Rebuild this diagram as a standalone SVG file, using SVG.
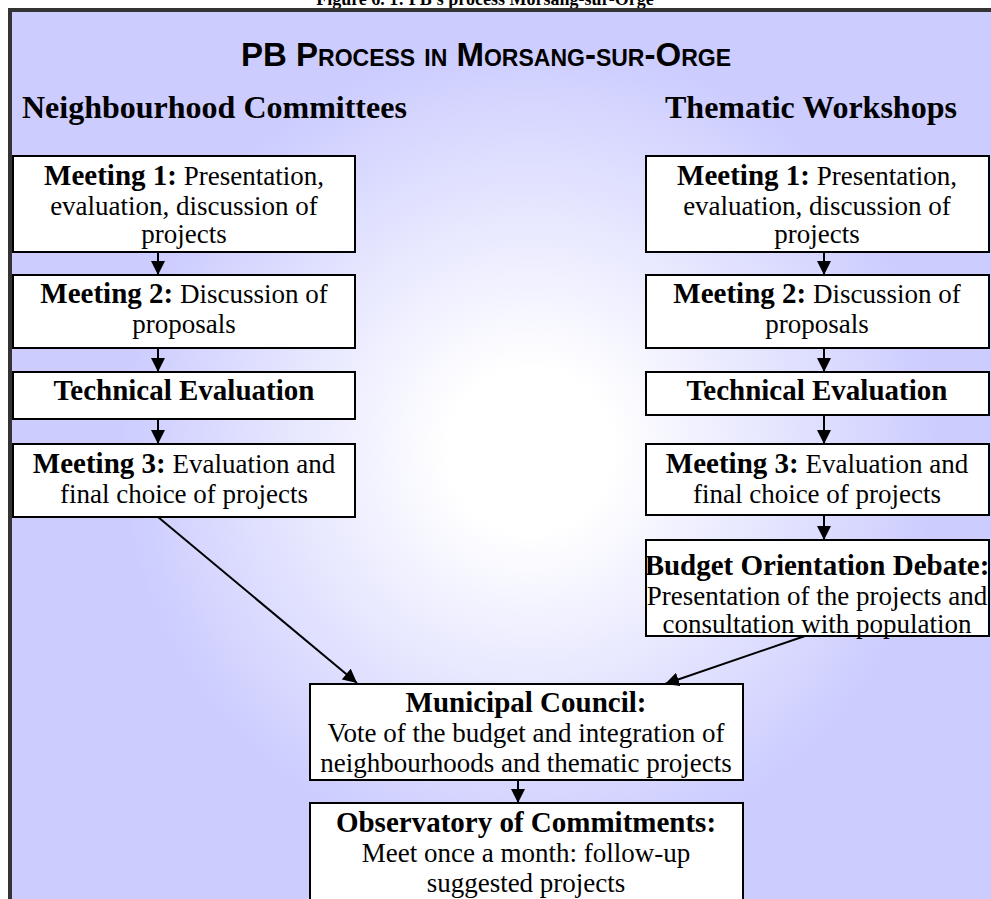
<svg xmlns="http://www.w3.org/2000/svg" width="991" height="899" viewBox="0 0 991 899">
<defs>
<radialGradient id="bg" gradientUnits="userSpaceOnUse" cx="530" cy="450" r="410">
<stop offset="0" stop-color="#FFFFFF"/>
<stop offset="0.2" stop-color="#FFFFFF"/>
<stop offset="1" stop-color="#CCCCFF"/>
</radialGradient>
<marker id="ah" markerUnits="userSpaceOnUse" markerWidth="14" markerHeight="14" viewBox="0 0 14 14" refX="14" refY="7" orient="auto">
<path d="M0,0 L14,7 L0,14 Z" fill="#000"/>
</marker>
<style>
.box{fill:#FFFFFF;stroke:#000;stroke-width:2}
.t{font-family:"Liberation Serif","Times New Roman",serif;font-size:27px;fill:#000;text-anchor:middle}
.b{font-weight:bold;font-size:29px}
.h{font-family:"Liberation Serif","Times New Roman",serif;font-size:32px;font-weight:bold;fill:#000}
.c{stroke:#000;stroke-width:2;fill:none;marker-end:url(#ah)}
</style>
</defs>
<rect x="0" y="0" width="991" height="899" fill="#FFFFFF"/>
<text x="485" y="5" style="font-family:'Liberation Serif',serif;font-size:18px;font-weight:bold;text-anchor:middle">Figure 6. 1: PB's process Morsang-sur-Orge</text>
<rect x="10" y="10" width="1000" height="920" fill="url(#bg)" stroke="#333333" stroke-width="4"/>
<text x="486" y="66" style="font-family:'Liberation Sans',Arial,sans-serif;font-size:33px;font-weight:bold;font-variant:small-caps;text-anchor:middle">PB Process in Morsang-sur-Orge</text>
<text class="h" x="22" y="118">Neighbourhood Committees</text>
<text class="h" x="665" y="118">Thematic Workshops</text>

<g id="n-meeting1-left">
<rect class="box" x="13" y="156" width="342" height="96"/>
<text class="t" x="184" y="185"><tspan class="b">Meeting 1:</tspan>  Presentation,</text>
<text class="t" x="184" y="215">evaluation, discussion of</text>
<text class="t" x="184" y="243">projects</text>
</g>
<g id="n-meeting2-left">
<rect class="box" x="13" y="275" width="342" height="73"/>
<text class="t" x="184" y="303"><tspan class="b">Meeting 2:</tspan> Discussion of</text>
<text class="t" x="184" y="333">proposals</text>
</g>
<g id="n-tech-left">
<rect class="box" x="13" y="372" width="342" height="47"/>
<text class="t b" x="184" y="400">Technical Evaluation</text>
</g>
<g id="n-meeting3-left">
<rect class="box" x="13" y="444" width="342" height="73"/>
<text class="t" x="184" y="473"><tspan class="b">Meeting 3:</tspan> Evaluation and</text>
<text class="t" x="184" y="503">final choice of projects</text>
</g>

<g id="n-meeting1-right">
<rect class="box" x="646" y="156" width="343" height="96"/>
<text class="t" x="817" y="185"><tspan class="b">Meeting 1:</tspan>  Presentation,</text>
<text class="t" x="817" y="215">evaluation, discussion of</text>
<text class="t" x="817" y="243">projects</text>
</g>
<g id="n-meeting2-right">
<rect class="box" x="646" y="275" width="343" height="73"/>
<text class="t" x="817" y="303"><tspan class="b">Meeting 2:</tspan> Discussion of</text>
<text class="t" x="817" y="333">proposals</text>
</g>
<g id="n-tech-right">
<rect class="box" x="646" y="372" width="343" height="43"/>
<text class="t b" x="817" y="400">Technical Evaluation</text>
</g>
<g id="n-meeting3-right">
<rect class="box" x="646" y="444" width="343" height="71"/>
<text class="t" x="817" y="473"><tspan class="b">Meeting 3:</tspan> Evaluation and</text>
<text class="t" x="817" y="503">final choice of projects</text>
</g>
<g id="n-budget">
<rect class="box" x="646" y="540" width="343" height="96"/>
<text class="t b" x="817" y="575">Budget Orientation Debate:</text>
<text class="t" x="817" y="605">Presentation of the projects and</text>
<text class="t" x="817" y="633">consultation with population</text>
</g>

<g id="n-council">
<rect class="box" x="310" y="684" width="433" height="96"/>
<text class="t b" x="526" y="712">Municipal Council:</text>
<text class="t" x="526" y="742">Vote of the budget and integration of</text>
<text class="t" x="526" y="772">neighbourhoods and thematic projects</text>
</g>
<g id="n-observatory">
<rect class="box" x="310" y="803" width="433" height="120"/>
<text class="t b" x="526" y="832">Observatory of Commitments:</text>
<text class="t" x="526" y="862">Meet once a month: follow-up</text>
<text class="t" x="526" y="892">suggested projects</text>
</g>

<g id="connectors">
<line class="c" x1="158" y1="252" x2="158" y2="275"/>
<line class="c" x1="158" y1="348" x2="158" y2="372"/>
<line class="c" x1="158" y1="419" x2="158" y2="444"/>
<line class="c" x1="824" y1="252" x2="824" y2="275"/>
<line class="c" x1="824" y1="348" x2="824" y2="372"/>
<line class="c" x1="824" y1="415" x2="824" y2="444"/>
<line class="c" x1="824" y1="515" x2="824" y2="540"/>
<line class="c" x1="158" y1="517" x2="357" y2="683"/>
<line class="c" x1="805" y1="636" x2="665" y2="684"/>
<line class="c" x1="518" y1="780" x2="518" y2="803"/>
</g>
</svg>
